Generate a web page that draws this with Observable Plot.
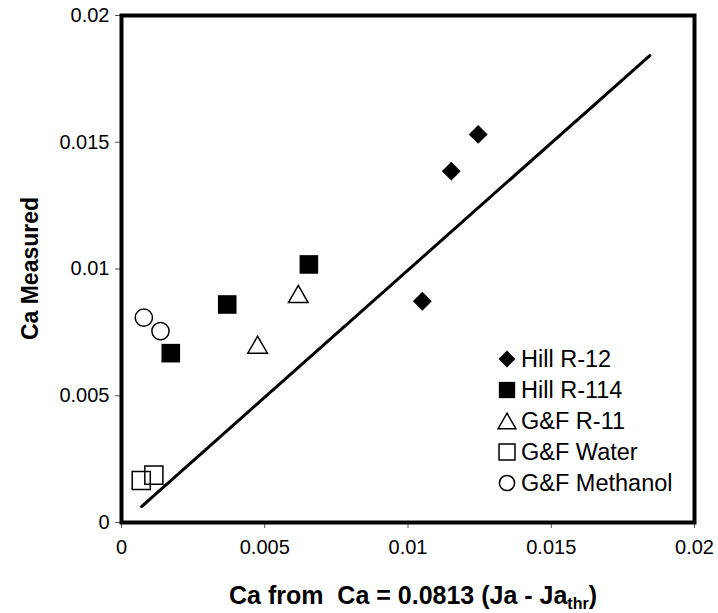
<!DOCTYPE html>
<html>
<head>
<meta charset="utf-8">
<script src="https://cdn.jsdelivr.net/npm/d3@7"></script>
<script src="https://cdn.jsdelivr.net/npm/@observablehq/plot@0.6"></script>
<style>
  html, body { margin: 0; padding: 0; background: white; }
  #chart svg { display: block; }
</style>
</head>
<body>
<div id="chart"></div>
<script>
// ---- data ----
const xTicks = [0, 0.005, 0.01, 0.015, 0.02];
const xTickLabels = ["0", "0.005", "0.01", "0.015", "0.02"];
const yTicks = [0, 0.005, 0.01, 0.015, 0.02];
const yTickLabels = ["0", "0.005", "0.01", "0.015", "0.02"];

const seriesNames = ["Hill R-12", "Hill R-114", "G&F R-11", "G&F Water", "G&F Methanol"];

const hillR12X = [0.01245, 0.01151, 0.0105];
const hillR12Y = [0.01531, 0.01386, 0.00873];
const hillR114X = [0.00654, 0.00369, 0.00172];
const hillR114Y = [0.01018, 0.0086, 0.00668];
const gfR11X = [0.00617, 0.00475];
const gfR11Y = [0.00902, 0.00702];
const gfWaterX = [0.00069, 0.00113];
const gfWaterY = [0.00166, 0.00187];
const gfMethanolX = [0.00078, 0.00136];
const gfMethanolY = [0.00808, 0.00755];

const fitLineX = [0.0007, 0.01844];
const fitLineY = [0.00063, 0.01842];

const xTitle = "Ca from  Ca = 0.0813 (Ja - Ja";
const xTitleSub = "thr";
const yTitle = "Ca Measured";

// ---- build ----
const toPts = (xs, ys) => xs.map((x, i) => ({x, y: ys[i]}));
const fmt = (ticks, labels) => d => labels[ticks.indexOf(d)];

const styles = [
  {symbol: "diamond2", r: 8.5, fill: "black", stroke: "none", strokeWidth: 0, dy: 0, lr: 7.6},
  {symbol: "square", r: 10.5, fill: "black", stroke: "none", strokeWidth: 0, dy: 0, lr: 9.2},
  {symbol: "triangle", r: 7.3, fill: "none", stroke: "black", strokeWidth: 1.5, dy: 3, lr: 6.6},
  {symbol: "square", r: 10.2, fill: "none", stroke: "black", strokeWidth: 1.5, dy: 0, lr: 9.0},
  {symbol: "circle", r: 8.6, fill: "none", stroke: "black", strokeWidth: 1.5, dy: 0, lr: 7.6}
];
const seriesData = [
  toPts(hillR12X, hillR12Y),
  toPts(hillR114X, hillR114Y),
  toPts(gfR11X, gfR11Y),
  toPts(gfWaterX, gfWaterY),
  toPts(gfMethanolX, gfMethanolY)
];

const W = 718, H = 613;
const mL = 121, mR = 24, mT = 15, mB = 91;

const chart = Plot.plot({
  width: W, height: H,
  marginLeft: mL, marginRight: mR, marginTop: mT, marginBottom: mB,
  style: {fontFamily: "'Liberation Sans', Arial, sans-serif", fontSize: "20px", color: "black", background: "white"},
  x: {domain: [0, 0.02]},
  y: {domain: [0, 0.02]},
  marks: [
    Plot.axisX({ticks: xTicks, tickFormat: fmt(xTicks, xTickLabels), tickSize: 6, tickPadding: 11, label: null, stroke: "#555"}),
    Plot.axisY({ticks: yTicks, tickFormat: fmt(yTicks, yTickLabels), tickSize: 6, tickPadding: 6, label: null, stroke: "#555"}),
    Plot.line(toPts(fitLineX, fitLineY), {x: "x", y: "y", stroke: "black", strokeWidth: 3}),
    ...seriesData.map((d, i) => Plot.dot(d, {
      x: "x", y: "y",
      symbol: styles[i].symbol, r: styles[i].r,
      fill: styles[i].fill, stroke: styles[i].stroke, strokeWidth: styles[i].strokeWidth,
      dy: styles[i].dy
    })),
    Plot.frame({stroke: "black", strokeWidth: 4})
  ]
});

const svg = d3.select(chart);
const font = "'Liberation Sans', Arial, sans-serif";

// y title
svg.append("text")
  .attr("transform", `translate(38,${(mT + (H - mB)) / 2}) rotate(-90)`)
  .attr("text-anchor", "middle")
  .attr("font-family", font).attr("font-size", 23).attr("font-weight", "bold")
  .text(yTitle);

// x title with subscript
const xt = svg.append("text")
  .attr("x", 413).attr("y", 604)
  .attr("text-anchor", "middle")
  .attr("font-family", font).attr("font-size", 25).attr("font-weight", "bold")
  .attr("xml:space", "preserve")
  .style("white-space", "pre");
xt.append("tspan").text(xTitle);
xt.append("tspan").attr("font-size", 16).attr("dy", 5).text(xTitleSub);
xt.append("tspan").attr("dy", -5).text(")");

// legend
const legX = 507, legTextX = 521, legY0 = 359, legDY = 31;
const lg = svg.append("g");
seriesNames.forEach((name, i) => {
  const s = styles[i];
  const cy = legY0 + i * legDY;
  if (s.symbol === "circle") {
    lg.append("circle").attr("cx", legX).attr("cy", cy).attr("r", s.lr)
      .attr("fill", s.fill).attr("stroke", s.stroke).attr("stroke-width", s.strokeWidth);
  } else {
    const sym = {diamond2: d3.symbolDiamond2, square: d3.symbolSquare, triangle: d3.symbolTriangle}[s.symbol];
    const path = d3.symbol(sym, Math.PI * s.lr * s.lr)();
    lg.append("path").attr("d", path)
      .attr("transform", `translate(${legX},${cy + (s.symbol === "triangle" ? 2.5 : 0)})`)
      .attr("fill", s.fill).attr("stroke", s.stroke).attr("stroke-width", s.strokeWidth);
  }
  lg.append("text").attr("x", legTextX).attr("y", cy).attr("dy", "0.36em")
    .attr("text-anchor", "start")
    .attr("font-family", font).attr("font-size", 23.5)
    .text(name);
});

document.getElementById("chart").appendChild(chart);
</script>
</body>
</html>
